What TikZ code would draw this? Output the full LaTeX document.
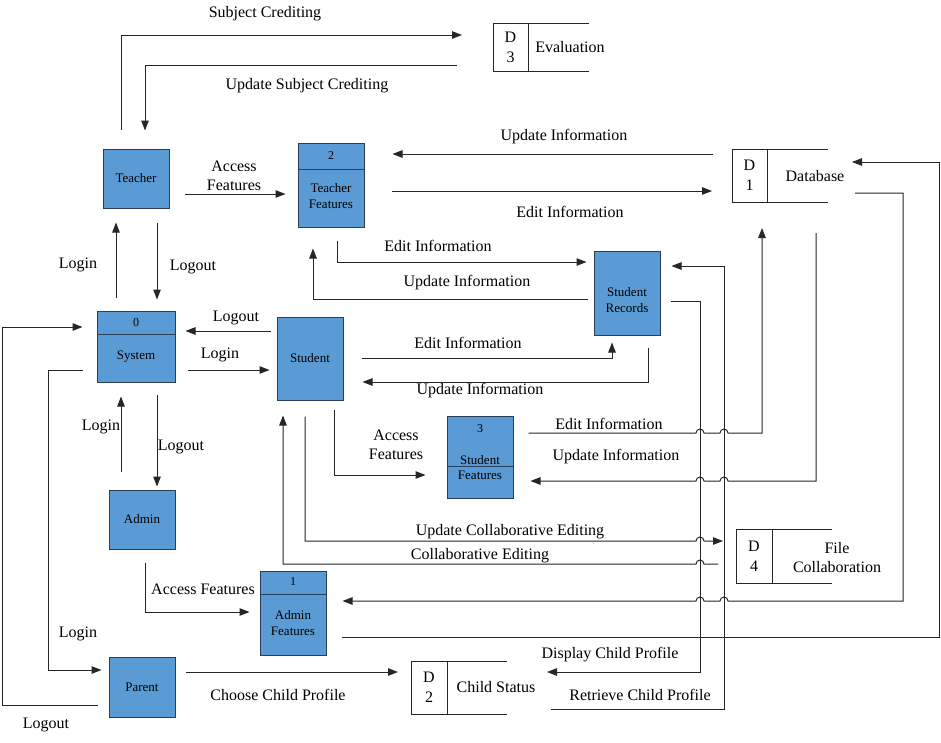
\documentclass[tikz,border=0pt]{standalone}
\usepackage{fontspec}
\setmainfont{Liberation Serif}
\usepackage{tikz}
\usetikzlibrary{
arrows.meta,
positioning
}
\definecolor{DFDBlue}{HTML}{5B9BD5}
\definecolor{DFDEdge}{HTML}{2A3F55}
\definecolor{DFDLine}{HTML}{262626}
\tikzset{
dfdproc/.style={draw=DFDEdge, fill=DFDBlue, line width=1pt, inner sep=0pt, align=center,
  font=\fontsize{13}{16}\selectfont},
dfdtext/.style={inner sep=0pt, align=center, font=\fontsize{13}{16}\selectfont},
dfdnum/.style={inner sep=0pt, font=\fontsize{12}{14}\selectfont},
dfdsid/.style={draw=DFDLine, line width=1pt, inner sep=0pt, outer sep=0pt, align=center,
  minimum width=35pt, font=\fontsize{16}{20}\selectfont},
dfdarea/.style={inner sep=0pt, outer sep=0pt, minimum width=61pt},
dfdname/.style={inner sep=0pt, align=center, font=\fontsize{16}{19}\selectfont},
dfdlbl/.style={inner sep=0pt, align=center, font=\fontsize{16}{19}\selectfont},
dfdline/.style={draw=DFDLine, line width=1pt},
dfdflow/.style={draw=DFDLine, line width=1pt, -{Triangle[length=10pt, width=7.5pt]}}
}

\begin{document}
\begin{tikzpicture}[x=1pt, y=-1pt]
\path[use as bounding box, fill=white] (0,0) rectangle (941,742);

\node[dfdproc, minimum width=66pt, minimum height=59pt] (teacher) at (136,178.5) {Teacher};
\node[dfdproc, minimum width=66pt, minimum height=84pt] (tf) at (331,185) {};
\node[dfdnum] (tfnum) at (331,156) {2};
\node[dfdtext] (tfname) at (331,196) {Teacher\\Features};
\node[dfdproc, minimum width=66pt, minimum height=84pt] (sr) at (627,293) {};
\node[dfdtext] (srname) at (627,300) {Student\\Records};
\node[dfdproc, minimum width=78pt, minimum height=71pt] (sys) at (136,346.5) {};
\node[dfdnum] (sysnum) at (136,323) {0};
\node[dfdtext] (sysname) at (136,357) {System};
\node[dfdproc, minimum width=66pt, minimum height=83pt] (stu) at (310,358.5) {Student};
\node[dfdproc, minimum width=66pt, minimum height=82pt] (sf) at (480,457) {};
\node[dfdnum] (sfnum) at (480,429) {3};
\node[dfdtext, font=\fontsize{13}{15}\selectfont] (sfname) at (480,468) {Student\\Features};
\node[dfdproc, minimum width=66pt, minimum height=59pt] (admin) at (142,519.5) {Admin};
\node[dfdproc, minimum width=66pt, minimum height=84pt] (af) at (293,613) {};
\node[dfdnum] (afnum) at (293,582) {1};
\node[dfdtext] (afname) at (293,623) {Admin\\Features};
\node[dfdproc, minimum width=66pt, minimum height=60pt] (parent) at (142,687) {Parent};

\draw[dfdline, draw=DFDEdge] (tf.west |- 0,169) -- (tf.east |- 0,169);
\draw[dfdline, draw=DFDEdge] (sys.west |- 0,334) -- (sys.east |- 0,334);
\draw[dfdline, draw=DFDEdge] (sf.west |- 0,466) -- (sf.east |- 0,466);
\draw[dfdline, draw=DFDEdge] (af.west |- 0,594) -- (af.east |- 0,594);

\node[dfdsid, minimum height=48pt] (d3id) at (510.5,47) {D\\3};
\node[dfdarea, minimum height=48pt, right=0pt of d3id] (d3) {};
\node[dfdname] (d3name) at (570,47) {Evaluation};
\node[dfdsid, minimum height=53pt] (d1id) at (749.5,175.5) {D\\1};
\node[dfdarea, minimum height=53pt, right=0pt of d1id] (d1) {};
\node[dfdname] (d1name) at (815,176) {Database};
\node[dfdsid, minimum width=36pt, minimum height=54pt] (d4id) at (754,556) {D\\4};
\node[dfdarea, minimum width=60pt, minimum height=54pt, right=0pt of d4id] (d4) {};
\node[dfdname] (d4name) at (837,558) {File\\Collaboration};
\node[dfdsid, minimum width=36pt, minimum height=53pt] (d2id) at (429,687.5) {D\\2};
\node[dfdarea, minimum width=60pt, minimum height=53pt, right=0pt of d2id] (d2) {};
\node[dfdname] (d2name) at (496,687) {Child Status};

\draw[dfdline] (d3id.north east) -- (d3.north east) (d3id.south east) -- (d3.south east);
\draw[dfdline] (d1id.north east) -- (d1.north east) (d1id.south east) -- (d1.south east);
\draw[dfdline] (d4id.north east) -- (d4.north east) (d4id.south east) -- (d4.south east);
\draw[dfdline] (d2id.north east) -- (d2.north east) (d2id.south east) -- (d2.south east);

\draw[dfdflow, shorten <=19pt, shorten >=31pt] (teacher.north -| 121,0) |- (d3id.west |- 0,35);
\draw[dfdflow, shorten <=36pt, shorten >=18pt] (d3id.west |- 0,65) -| (teacher.north -| 145,0);
\draw[dfdflow, shorten <=15pt, shorten >=12pt] (teacher.east |- 0,194) -- (tf.west |- 0,194);
\draw[dfdflow, shorten <=19pt, shorten >=28pt] (d1id.west |- 0,154) -- (tf.east |- 0,154);
\draw[dfdflow, shorten <=27pt, shorten >=20pt] (tf.east |- 0,191) -- (d1id.west |- 0,191);
\draw[dfdflow, shorten <=13pt, shorten >=7pt] (tf.south -| 337,0) |- (sr.west |- 0,262);
\draw[dfdflow, shorten <=6pt, shorten >=21pt] (sr.west |- 0,299) -| (tf.south -| 313,0);
\draw[dfdflow, shorten <=13pt, shorten >=14pt] (sys.north -| 116,0) -- (teacher.south -| 116,0);
\draw[dfdflow, shorten <=14pt, shorten >=11pt] (teacher.south -| 157,0) -- (sys.north -| 157,0);
\draw[dfdflow, shorten <=6pt, shorten >=10pt] (stu.west |- 0,331) -- (sys.east |- 0,331);
\draw[dfdflow, shorten <=12pt, shorten >=7pt] (sys.east |- 0,370) -- (stu.west |- 0,370);
\draw[dfdflow, shorten <=18pt, shorten >=7pt] (stu.east |- 0,358) -| (sr.south -| 612,0);
\draw[dfdflow, shorten <=12pt, shorten >=19pt] (sr.south -| 648,0) |- (stu.east |- 0,382);
\draw[dfdflow, shorten <=18pt, shorten >=14pt] (admin.north -| 121,0) -- (sys.south -| 121,0);
\draw[dfdflow, shorten <=12pt, shorten >=3pt] (sys.south -| 157,0) -- (admin.north -| 157,0);
\draw[dfdflow, shorten <=9pt, shorten >=21pt] (stu.south -| 334,0) |- (sf.west |- 0,475);
\draw[dfdflow, shorten <=15pt, shorten >=26pt] (sf.east |- 0,433) -- (696,433)
  arc[start angle=180, end angle=0, radius=4pt] -- (720,433)
  arc[start angle=180, end angle=0, radius=4pt] -| (d1id.south -| 762,0);
\draw[dfdflow, shorten <=31pt, shorten >=17pt] (d1.south -| 816,0) |- (728,481)
  arc[start angle=0, end angle=180, radius=4pt] -- (704,481)
  arc[start angle=0, end angle=180, radius=4pt] -- (sf.east |- 0,481);
\draw[dfdflow, shorten <=16pt, shorten >=13pt] (stu.south -| 305,0) |- (696,541)
  arc[start angle=180, end angle=0, radius=4pt] -- (d4id.west |- 0,541);
\draw[dfdflow, shorten <=18pt, shorten >=15pt] (d4id.west |- 0,564) -- (704,564)
  arc[start angle=0, end angle=180, radius=4pt] -| (stu.south -| 283,0);
\draw[dfdflow, shorten <=13pt, shorten >=10pt] (admin.south -| 145,0) |- (af.west |- 0,612);
\draw[dfdflow, shorten <=27pt, shorten >=16pt] (d1.east |- 0,193) -| (903,601) -- (728,601)
  arc[start angle=0, end angle=180, radius=4pt] -- (704,601)
  arc[start angle=0, end angle=180, radius=4pt] -- (af.east |- 0,601);
\draw[dfdflow, shorten <=15pt, shorten >=24pt] (af.east |- 0,637) -| (939,162) -- (d1.east |- 0,162);
\draw[dfdflow, shorten <=14pt, shorten >=7pt] (sys.west |- 0,370) -| (48,670) -- (parent.west |- 0,670);
\draw[dfdflow, shorten <=11pt, shorten >=14pt] (parent.west |- 0,705) -| (2,327) -- (sys.west |- 0,327);
\draw[dfdflow, shorten <=10pt, shorten >=13pt] (parent.east |- 0,672) -- (d2id.west |- 0,672);
\draw[dfdflow, shorten <=10pt, shorten >=40pt] (sr.east |- 0,301) -| (700,672) -- (d2.east |- 0,672);
\draw[dfdflow, shorten <=44pt, shorten >=11pt] (d2.east |- 0,709) -| (724,266) -- (sr.east |- 0,266);

\node[dfdlbl] (lsubj) at (265,14) {Subject Crediting};
\node[dfdlbl] (lupsubj) at (307,86) {Update Subject Crediting};
\node[dfdlbl] (ltacc) at (234,176) {Access\\Features};
\node[dfdlbl] (ltfup) at (564,137) {Update Information};
\node[dfdlbl] (ltfed) at (570,212) {Edit Information};
\node[dfdlbl] (lsred) at (438,246) {Edit Information};
\node[dfdlbl] (lsrup) at (467,283) {Update Information};
\node[dfdlbl] (ltin) at (78,265) {Login};
\node[dfdlbl] (ltout) at (193,267) {Logout};
\node[dfdlbl] (lsout) at (236,318) {Logout};
\node[dfdlbl] (lsin) at (220,355) {Login};
\node[dfdlbl] (lsted) at (468,343) {Edit Information};
\node[dfdlbl] (lstup) at (480,391) {Update Information};
\node[dfdlbl] (lain) at (101,427) {Login};
\node[dfdlbl] (laout) at (181,447) {Logout};
\node[dfdlbl] (lsacc) at (396,445) {Access\\Features};
\node[dfdlbl] (lsfed) at (609,424) {Edit Information};
\node[dfdlbl] (lsfup) at (616,457) {Update Information};
\node[dfdlbl] (lcolup) at (510,532) {Update Collaborative Editing};
\node[dfdlbl] (lcol) at (480,556) {Collaborative Editing};
\node[dfdlbl] (laacc) at (203,589) {Access Features};
\node[dfdlbl] (lpin) at (78,634) {Login};
\node[dfdlbl] (lpout) at (46,725) {Logout};
\node[dfdlbl] (lchoose) at (278,695) {Choose Child Profile};
\node[dfdlbl] (ldisp) at (610,655) {Display Child Profile};
\node[dfdlbl] (lret) at (640,695) {Retrieve Child Profile};
\end{tikzpicture}
\end{document}
